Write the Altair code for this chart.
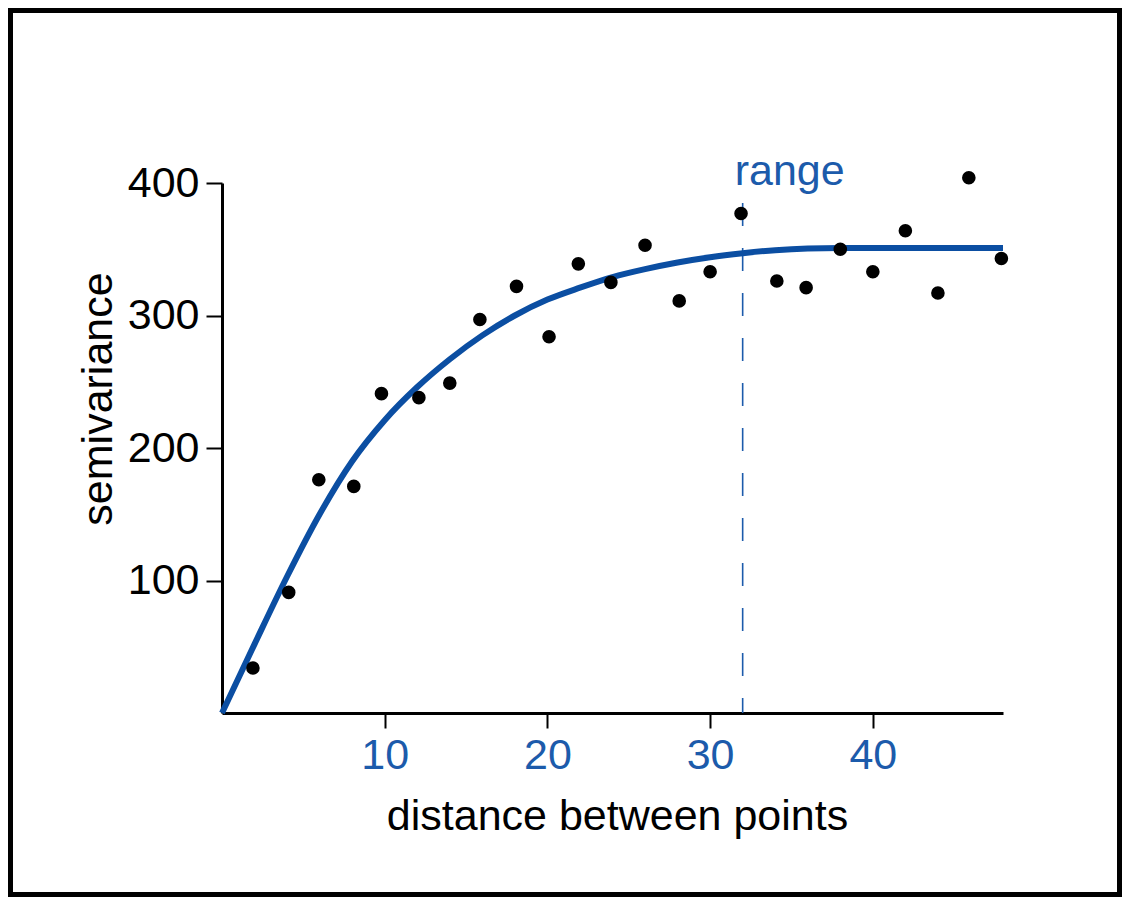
import altair as alt
import pandas as pd

# ---- data ----
dist = [1.9, 4.1, 5.95, 8.1, 9.8, 12.1, 14.0, 15.85, 18.1, 20.1, 21.9, 23.9,
        26.0, 28.1, 30.0, 31.9, 34.1, 35.9, 38.0, 40.0, 42.0, 44.0, 45.9, 47.9]
semivar = [34, 91, 176, 171, 241, 238, 249, 297, 322, 284, 339, 325,
           353, 311, 333, 377, 326, 321, 350, 333, 364, 317, 404, 343]

curve_x = [0, 2, 4, 6, 8, 10, 12, 14, 16, 18, 20, 22, 24, 26, 28, 30, 32, 34, 36, 38, 40, 44, 48]
curve_y = [0, 52, 103, 150, 190, 221, 246, 267, 285, 300, 312, 321, 329, 335, 340, 344, 347,
           349.3, 350.6, 351, 351, 351, 351]

range_x = [32]
range_top = [385]
range_label = ["range"]
range_label_y = [398.5]

x_ticks = [10, 20, 30, 40]
y_ticks = [100, 200, 300, 400]
x_title = "distance between points"
y_title = "semivariance"

BLUE_LINE = "#0b4ea2"
BLUE_TXT = "#1c5bab"
FONT = "Liberation Sans"
FS = 43

W, H = 781, 530
PAD = {"left": 214, "top": 175, "right": 119, "bottom": 184}

pts = pd.DataFrame({"d": dist, "s": semivar})
crv = pd.DataFrame({"d": curve_x, "s": curve_y})
rng = pd.DataFrame({"d": range_x, "s": range_top, "s0": [0] * len(range_x)})
lab = pd.DataFrame({"d": range_x, "s": range_label_y, "t": range_label})

xs = alt.Scale(domain=[0, 48], nice=False, zero=False)
ys = alt.Scale(domain=[0, 400], nice=False, zero=False)

x_axis = alt.Axis(values=x_ticks, title=x_title, labelColor=BLUE_TXT, tickSize=15,
                  labelPadding=6, titleX=395, titleY=116, titleBaseline="alphabetic",
                  titleAlign="center", grid=False)
y_axis = alt.Axis(values=y_ticks, title=y_title, labelColor="black", tickSize=16,
                  labelPadding=7, titleX=-111, titleY=215.5, titleBaseline="alphabetic",
                  titleAlign="center", titleAngle=-90, grid=False)

X = alt.X("d:Q", scale=xs, axis=x_axis)
Y = alt.Y("s:Q", scale=ys, axis=y_axis)

line = alt.Chart(crv).mark_line(color=BLUE_LINE, strokeWidth=6, interpolate="monotone",
                                 strokeCap="butt").encode(x=X, y=Y)

points = alt.Chart(pts).mark_circle(size=185, color="black", opacity=1).encode(x=X, y=Y)

rule = alt.Chart(rng).mark_rule(color=BLUE_TXT, strokeWidth=1.6, strokeDash=[23, 22]).encode(
    x=X, y=Y, y2="s0:Q")

text = alt.Chart(lab).mark_text(align="left", baseline="alphabetic", dx=-8, fontSize=FS,
                                font=FONT, color=BLUE_TXT).encode(x=X, y=Y, text="t:N")

border = alt.Chart(pd.DataFrame({"k": [0]})).mark_rect(
    fill=None, stroke="black", strokeWidth=5, clip=False).encode(
    x=alt.value(-PAD["left"] + 2.5), x2=alt.value(W + PAD["right"] - 2.5),
    y=alt.value(-PAD["top"] + 2.5), y2=alt.value(H + PAD["bottom"] - 2.5))

chart = alt.layer(rule, line, points, text, border).properties(
    width=W, height=H, padding=PAD, autosize=alt.AutoSizeParams(type="none"),
    background="white"
).configure_view(stroke=None).configure_axis(
    grid=False, domainColor="black", domainWidth=3, tickColor="black", tickWidth=2,
    labelFont=FONT, labelFontSize=FS, titleFont=FONT, titleFontSize=FS,
    titleFontWeight="normal", titleColor="black"
)

chart.save("out.html", embed_options={"renderer": "svg", "actions": False})
